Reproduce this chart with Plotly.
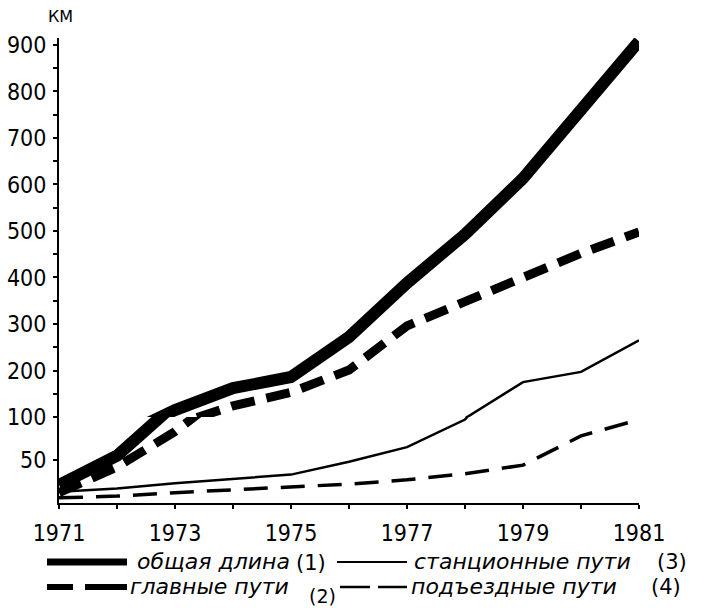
import plotly.graph_objects as go

years = [1971, 1972, 1973, 1974, 1975, 1976, 1977, 1978, 1979, 1980, 1981]
total_len = [21, 55, 115, 162, 186, 272, 388, 493, 613, 764, 908]      # общая длина (1)
main_tracks = [12, 42, 83, 124, 153, 201, 296, 348, 400, 452, 498]      # главные пути (2)
station_tracks = [13, 17, 23, 28, 33, 48, 65, 97, 175, 197, 265]       # станционные пути (3)
access_tracks = [6, 8, 12, 15, 19, 22, 27, 34, 44, 78, 97]             # подъездные пути (4)

x_ticks = [1971, 1973, 1975, 1977, 1979, 1981]
y_low_ticks = [50, 100]
y_up_ticks = [200, 300, 400, 500, 600, 700, 800, 900]

series = [
    ("общая длина (1)", total_len, dict(color="black", width=12)),
    ("главные пути (2)", main_tracks, dict(color="black", width=9, dash="24px,12px")),
    ("станционные пути (3)", station_tracks, dict(color="black", width=2.5)),
    ("подъездные пути (4)", access_tracks, dict(color="black", width=3.5, dash="24px,13px")),
]

fig = go.Figure()
for name, vals, line in series:
    for ax in ("y", "y2"):
        fig.add_trace(go.Scatter(x=years, y=vals, mode="lines", name=name,
                                 line=line, yaxis=ax, showlegend=False,
                                 hoverinfo="x+y"))

W, H = 706, 608
L, R, T, B = 59, 67, 38, 105
pw, ph = W - L - R, H - T - B
d = 86 / ph

tickfont = dict(family="DejaVu Sans Condensed, DejaVu Sans", size=23, color="black")
common = dict(showline=True, linecolor="black", linewidth=2, showgrid=False, zeroline=False,
              ticks="outside", ticklen=4, tickwidth=2, tickcolor="black",
              tickfont=tickfont, automargin=False, fixedrange=True)

fig.update_layout(
    width=W, height=H,
    margin=dict(l=L, r=R, t=T, b=B, autoexpand=False),
    paper_bgcolor="white", plot_bgcolor="white",
    showlegend=False,
    xaxis=dict(range=[1971, 1981], tickvals=x_ticks, ticktext=[str(v) for v in x_ticks],
               minor=dict(dtick=1, ticks="outside", ticklen=4, tickwidth=2, tickcolor="black"),
               ticklabelstandoff=4, anchor="y", **common),
    yaxis=dict(domain=[0, d], range=[0, 100], tickvals=y_low_ticks,
               ticklabelstandoff=2, anchor="x", **common),
    yaxis2=dict(domain=[d, 1], range=[100, 915], tickvals=y_up_ticks,
                minor=dict(tickvals=[150, 250, 350, 450, 550, 650, 750, 850],
                           ticks="outside", ticklen=4, tickwidth=2, tickcolor="black"),
                ticklabelstandoff=2, anchor="x", **common),
)

def px(xp):
    return (xp - L) / pw

def py(yp):
    return 1 - (yp - T) / ph

# unit label
fig.add_annotation(text="КМ", x=px(60), y=py(17), xref="paper", yref="paper",
                   showarrow=False, font=dict(family="DejaVu Sans", size=16, color="black"),
                   xanchor="center", yanchor="middle")

# legend (manual, two rows)
r1, r2 = 562, 587
shapes = []
def seg(x0, x1, y, w):
    shapes.append(dict(type="line", xref="paper", yref="paper",
                       x0=px(x0), x1=px(x1), y0=py(y), y1=py(y),
                       line=dict(color="black", width=w)))

seg(47, 127, r1, 7)
seg(47, 73, r2, 6)
seg(85, 127, r2, 6)
seg(337, 407, r1, 2)
seg(340, 370, r2, 2.5)
seg(378, 407, r2, 2.5)
fig.update_layout(shapes=shapes)

def txt(s, x, y, size=22):
    fig.add_annotation(text=s, x=px(x), y=py(y), xref="paper", yref="paper",
                       showarrow=False, xanchor="left", yanchor="middle",
                       xshift=-2, font=dict(family="DejaVu Sans", size=size, color="black"))

txt("<i>общая длина</i>", 137, r1 - 1)
txt("(1)", 296, r1 + 1, 21)
txt("<i>станционные пути</i>", 414, r1 - 1)
txt("(3)", 657, r1, 21)
txt("<i>главные пути</i>", 130, r2 - 1)
txt("(2)", 309, r2 + 9, 19)
txt("<i>подъездные пути</i>", 411, r2 - 1)
txt("(4)", 651, r2, 21)

fig.write_html("out.html", config=dict(displayModeBar=False),
               post_script="document.body.style.margin='0';document.body.style.overflow='hidden';")
